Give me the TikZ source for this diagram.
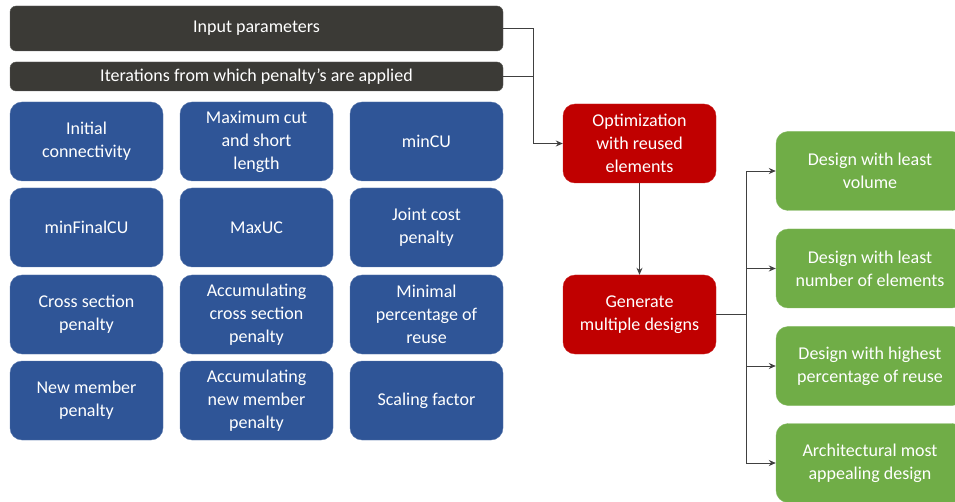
\documentclass[tikz,border=0pt]{standalone}
\usepackage{fontspec}
\setmainfont{Carlito}
\usepackage{tikz}
\usetikzlibrary{arrows.meta, positioning, calc}
\definecolor{BarGrey}{HTML}{3B3A36}
\definecolor{ParamBlue}{HTML}{2F5597}
\definecolor{StepRed}{HTML}{C00000}
\definecolor{ResultGreen}{HTML}{70AD47}
\definecolor{LineGrey}{HTML}{404040}
\tikzset{
  % Box styles
  barbox/.style={rectangle, rounded corners=6pt, draw=BarGrey!80, fill=BarGrey, text=white, minimum width=493pt, inner sep=0pt, align=center},
  parambox/.style={rectangle, rounded corners=12pt, draw=ParamBlue!80, fill=ParamBlue, text=white, minimum width=153pt, minimum height=79pt, inner sep=0pt, align=center},
  stepbox/.style={rectangle, rounded corners=12pt, draw=StepRed!85, fill=StepRed, text=white, minimum width=153pt, minimum height=79pt, inner sep=0pt, align=center},
  resultbox/.style={rectangle, rounded corners=12pt, draw=ResultGreen!85, fill=ResultGreen, text=white, minimum width=188pt, minimum height=79pt, inner sep=0pt, align=center},
  % Connector styles
  link/.style={LineGrey, line width=0.9pt},
  arrow/.style={link, -{Stealth[length=7pt, width=6pt]}}
}

\begin{document}
\begin{tikzpicture}[x=1pt, y=-1pt, font=\fontsize{18}{23}\selectfont]
  \useasboundingbox (0,0) rectangle (955,502);
  \clip (0,0) rectangle (955,502);

  % Input bars
  \node[barbox, minimum height=45pt] (input) at (256.5,28.5) {Input parameters};
  \node[barbox, minimum height=29pt] (iter) at (256.5,76.5) {Iterations from which penalty’s are applied};

  % Parameter grid
  \node[parambox] (conn)     at (86.5,141.5)  {Initial\\connectivity};
  \node[parambox] (maxcut)   at (256.5,141.5) {Maximum cut\\and short\\length};
  \node[parambox] (mincu)    at (426.5,141.5) {minCU};
  \node[parambox] (minfinal) at (86.5,227.5)  {minFinalCU};
  \node[parambox] (maxuc)    at (256.5,227.5) {MaxUC};
  \node[parambox] (joint)    at (426.5,227.5) {Joint cost\\penalty};
  \node[parambox] (cross)    at (86.5,314.5)  {Cross section\\penalty};
  \node[parambox] (acccross) at (256.5,314.5) {Accumulating\\cross section\\penalty};
  \node[parambox] (reuse)    at (426.5,314.5) {Minimal\\percentage of\\reuse};
  \node[parambox] (member)   at (86.5,400.5)  {New member\\penalty};
  \node[parambox] (accmem)   at (256.5,400.5) {Accumulating\\new member\\penalty};
  \node[parambox] (scale)    at (426.5,400.5) {Scaling factor};

  % Process steps
  \node[stepbox] (opt) at (639.5,143.5) {Optimization\\with reused\\elements};
  \node[stepbox] (gen) at (639.5,314.5) {Generate\\multiple designs};

  % Resulting designs
  \node[resultbox] (volume)   at (870,171)   {Design with least\\volume};
  \node[resultbox] (elements) at (870,268.5) {Design with least\\number of elements};
  \node[resultbox] (highest)  at (870,366)   {Design with highest\\percentage of reuse};
  \node[resultbox] (appeal)   at (870,463)   {Architectural most\\appealing design};

  % Connectors
  \coordinate (bend) at (533,28.5);
  \coordinate (split) at (746,314.5);
  \draw[arrow] (input.east) -- (bend) |- (opt.west);
  \draw[link] (iter.east) -- (iter.east -| bend);
  \draw[arrow] (opt.south) -- (gen.north);
  \foreach \d in {volume, elements, highest, appeal}
    \draw[arrow] (gen.east) -- (split) |- (\d.west);
\end{tikzpicture}
\end{document}
